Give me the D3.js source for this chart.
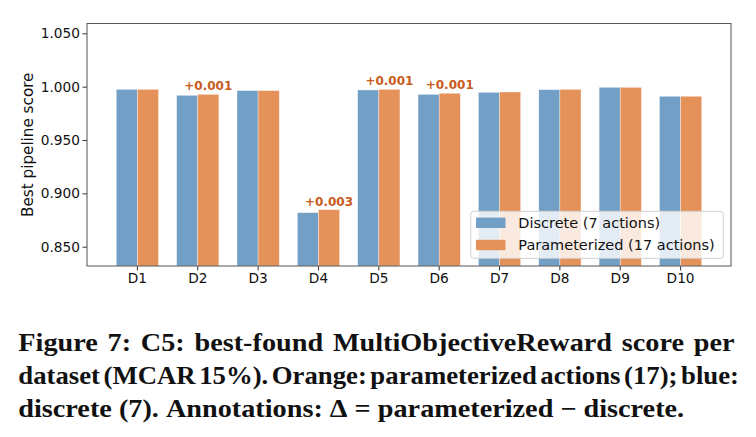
<!DOCTYPE html>
<html>
<head>
<meta charset="utf-8">
<script src="https://cdn.jsdelivr.net/npm/d3@7"></script>
<style>
  html, body { margin: 0; padding: 0; background: #fff; }
  svg { display: block; }
</style>
</head>
<body>
<svg id="chart" width="756" height="437"></svg>
<script>
// ---- data ----
const categories = ["D1","D2","D3","D4","D5","D6","D7","D8","D9","D10"];
const discrete = [0.9975, 0.9919, 0.9963, 0.8819, 0.9969, 0.9928, 0.9947, 0.9972, 0.9994, 0.9910];
const parameterized = [0.9975, 0.9928, 0.9963, 0.8847, 0.9975, 0.9938, 0.9950, 0.9975, 0.9994, 0.9910];
const annotations = ["", "+0.001", "", "+0.003", "+0.001", "+0.001", "", "", "", ""];
const yTicks = [0.85, 0.90, 0.95, 1.00, 1.05];
const seriesNames = ["Discrete (7 actions)", "Parameterized (17 actions)"];
const captionLines = [
  "Figure 7: C5: best-found MultiObjectiveReward score per",
  "dataset (MCAR 15%). Orange: parameterized actions (17); blue:",
  "discrete (7). Annotations: \u0394 = parameterized \u2212 discrete."
];

// ---- layout ----
const svg = d3.select("#chart");
const L = 87, R = 731, T = 23.5, B = 266;
const blue = "#729fc5", orange = "#e5915a", annColor = "#c75b1c";
const font = "'DejaVu Sans', sans-serif";
const tickFs = 13.7, labelFs = 15.2, legendFs = 14.5;

const x = d3.scaleBand().domain(categories).range([L, R]).paddingInner(0.3).paddingOuter(0.485);
const sub = d3.scaleBand().domain([0, 1]).range([0, x.bandwidth()]);
const y = d3.scaleLinear().domain([0.8319, 1.0592]).range([B, T]);

const g = svg.append("g");

// bars
const series = [discrete, parameterized];
const colors = [blue, orange];
series.forEach((vals, si) => {
  g.selectAll(null).data(categories).enter().append("rect")
    .attr("x", d => x(d) + sub(si))
    .attr("width", sub.bandwidth())
    .attr("y", (d, i) => y(vals[i]))
    .attr("height", (d, i) => B - y(vals[i]))
    .attr("fill", colors[si])
    .attr("stroke", "rgba(255,255,255,0.6)")
    .attr("stroke-width", 0.6);
});

// annotations
g.selectAll(null).data(categories).enter().append("text")
  .attr("x", d => x(d) + sub(1) + sub.bandwidth() / 2)
  .attr("y", (d, i) => y(parameterized[i]) - 4)
  .attr("text-anchor", "middle")
  .attr("font-family", font).attr("font-weight", "bold").attr("font-size", 12)
  .attr("fill", annColor)
  .text((d, i) => annotations[i]);

// axes
const yAxis = d3.axisLeft(y).tickValues(yTicks).tickFormat(d3.format(".3f")).tickSize(4.5).tickPadding(2.5);
const xAxis = d3.axisBottom(x).tickSize(4.5).tickPadding(3.1);
const ya = svg.append("g").attr("transform", `translate(${L},0)`).call(yAxis);
const xa = svg.append("g").attr("transform", `translate(0,${B})`).call(xAxis);
[ya, xa].forEach(a => {
  a.select(".domain").remove();
  a.selectAll("line").attr("stroke", "#333").attr("stroke-width", 1);
  a.selectAll("text").attr("font-family", font).attr("font-size", tickFs).attr("fill", "#111");
});
xa.selectAll("text").attr("dy", "0.71em");

// frame
svg.append("rect").attr("x", L).attr("y", T).attr("width", R - L).attr("height", B - T)
  .attr("fill", "none").attr("stroke", "#555").attr("stroke-width", 1);

// y label
svg.append("text")
  .attr("transform", `translate(32.5,${(T + B) / 2}) rotate(-90)`)
  .attr("text-anchor", "middle")
  .attr("font-family", font).attr("font-size", labelFs).attr("fill", "#111")
  .text("Best pipeline score");

// legend
const lg = svg.append("g");
lg.append("rect").attr("x", 470.7).attr("y", 211.3).attr("width", 252.6).attr("height", 47)
  .attr("rx", 3).attr("fill", "rgba(255,255,255,0.8)").attr("stroke", "#d0d0d0").attr("stroke-width", 1);
const rowsY = [222.8, 245];
seriesNames.forEach((name, i) => {
  lg.append("rect").attr("x", 476).attr("y", rowsY[i] - 5.2).attr("width", 29.5).attr("height", 10.4)
    .attr("fill", colors[i]);
  lg.append("text").attr("x", 518.3).attr("y", rowsY[i] + 5.2)
    .attr("font-family", font).attr("font-size", legendFs).attr("fill", "#111").text(name);
});

// caption
const capFont = "'Liberation Serif', 'Times New Roman', serif";
const capFs = 25;
const capX0 = 18.3;
const capRight = [734.5, 739, 681];
const baselines = [350.7, 383.6, 416.7];

// measure line 3 naturally to get horizontal glyph scale
const probe = svg.append("text").attr("font-family", capFont).attr("font-weight", "bold")
  .attr("font-size", capFs).attr("x", -2000).attr("y", -100).text(captionLines[2]);
const nat3 = probe.node().getComputedTextLength();
probe.text(" ");
const spaceW = probe.node().getComputedTextLength() || capFs * 0.25;
probe.remove();
const hs = (capRight[2] - capX0) / nat3;

captionLines.forEach((line, li) => {
  const words = line.split(" ");
  const tg = svg.append("g");
  const nodes = words.map(w => tg.append("text")
    .attr("font-family", capFont).attr("font-weight", "bold").attr("font-size", capFs)
    .attr("fill", "#111").attr("y", baselines[li]).text(w));
  const widths = nodes.map(n => n.node().getComputedTextLength());
  const total = d3.sum(widths);
  let scale = hs;
  let gap;
  const target = capRight[li] - capX0;
  if (li === 2) {
    gap = spaceW * hs;
  } else {
    gap = (target - total * scale) / (words.length - 1);
    if (gap < 3.5) { gap = 3.5; scale = (target - gap * (words.length - 1)) / total; }
  }
  let cx = capX0;
  nodes.forEach((n, i) => {
    n.attr("textLength", widths[i] * scale).attr("lengthAdjust", "spacingAndGlyphs");
    n.attr("x", cx);
    cx += widths[i] * scale + gap;
  });
});
</script>
</body>
</html>
